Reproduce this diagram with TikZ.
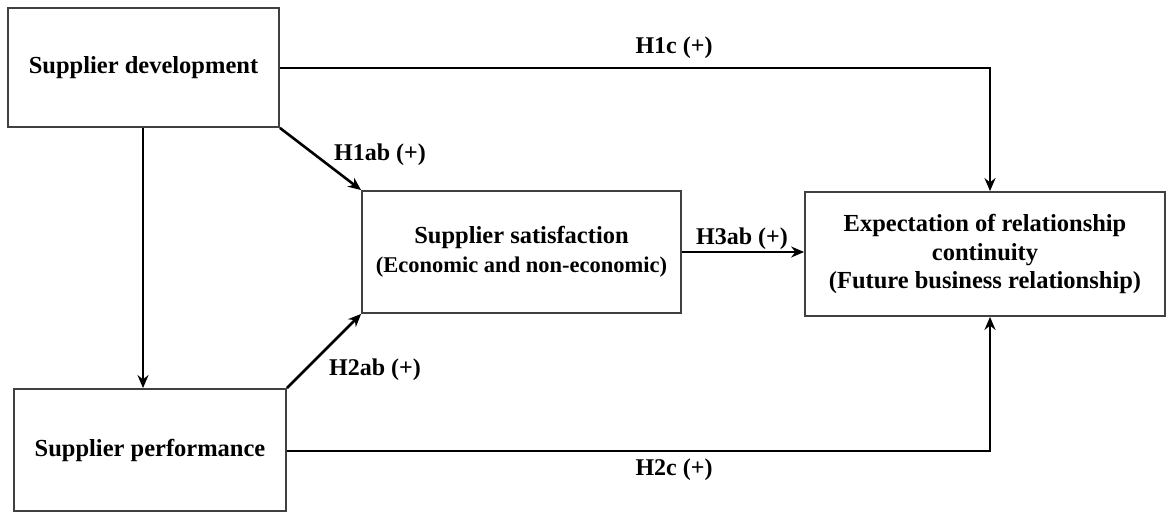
\documentclass[tikz,border=0pt]{standalone}
\usepackage{fontspec}
\setmainfont{Liberation Serif}
\usetikzlibrary{arrows.meta,positioning}
\begin{document}
\begin{tikzpicture}[x=1pt,y=-1pt,
  box/.style={draw=black!75,line width=1.8pt,fill=white,inner sep=0pt,font=\bfseries\fontsize{24.5}{28.5}\selectfont,align=center},
  conn/.style={draw=black,line width=2.6pt,-{Stealth[length=13pt,width=11pt]}},
  lbl/.style={font=\bfseries\fontsize{24}{28}\selectfont}]
\useasboundingbox (0,0) rectangle (1168,513);
\node[box,minimum width=271pt,minimum height=119pt] (dev) at (143.5,67.5) {Supplier development};
\node[box,minimum width=272pt,minimum height=122pt] (perf) at (150,450) {Supplier performance};
\node[box,minimum width=319pt,minimum height=122pt] (sat) at (521.5,252) {Supplier satisfaction\\[1pt]{\fontsize{22.5}{27}\selectfont(Economic and non-economic)}};
\node[box,minimum width=360pt,minimum height=124pt] (exp) at (985,254) {Expectation of relationship\\continuity\\(Future business relationship)};
\coordinate (c1) at (990,68);
\coordinate (c2) at (990,451);
\draw[conn] (dev.east |- c1) -- (c1) -- (exp.north -| c1);
\draw[conn] (dev.south -| 143,0) -- (perf.north -| 143,0);
\draw[conn] (dev.south east) -- (sat.north west);
\draw[conn] (perf.north east) -- (sat.south west);
\draw[conn,line width=2pt] (sat.east |- 0,252) -- (exp.west |- 0,252);
\draw[conn] (perf.east |- c2) -- (c2) -- (exp.south -| c2);
\node[lbl] (l1c) at (674,48) {H1c (+)};
\node[lbl] (l1ab) at (380,155) {H1ab (+)};
\node[lbl] (l2ab) at (375,370) {H2ab (+)};
\node[lbl] (l3ab) at (742,239) {H3ab (+)};
\node[lbl] (l2c) at (674,470) {H2c (+)};
\end{tikzpicture}
\end{document}
